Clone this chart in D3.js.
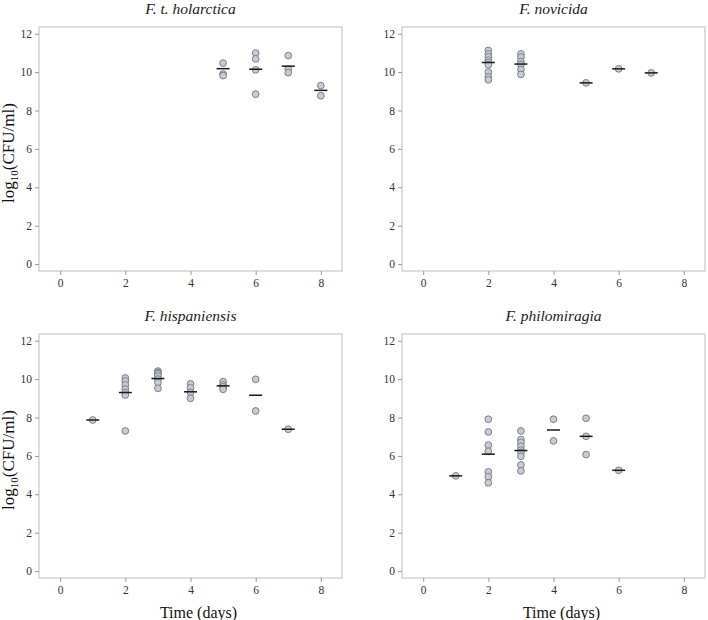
<!DOCTYPE html>
<html><head><meta charset="utf-8">
<script src="https://cdn.jsdelivr.net/npm/d3@7"></script>
<style>body{margin:0;background:#fff}svg{display:block}</style>
</head><body>
<script>
const titles = ["F. t. holarctica", "F. novicida", "F. hispaniensis", "F. philomiragia"];
const xTicks = [0, 2, 4, 6, 8];
const yTicks = [0, 2, 4, 6, 8, 10, 12];
// individual measurements per panel: [day, value]
const holarcticaPts = [[5,10.47],[5,9.9],[5,9.82],[6,10.99],[6,10.69],[6,10.12],[6,8.85],[7,10.86],[7,10.15],[7,9.97],[8,9.3],[8,8.77]];
const novicidaPts = [[2,11.13],[2,10.95],[2,10.8],[2,10.62],[2,10.5],[2,10.38],[2,10.0],[2,9.75],[2,9.6],
  [3,10.95],[3,10.78],[3,10.55],[3,10.4],[3,10.13],[3,9.88],[5,9.44],[6,10.17],[7,9.96]];
const hispaniensisPts = [[1,7.87],[2,10.06],[2,9.9],[2,9.7],[2,9.48],[2,9.3],[2,9.17],[2,7.3],
  [3,10.42],[3,10.35],[3,10.28],[3,10.16],[3,10.0],[3,9.82],[3,9.52],
  [4,9.75],[4,9.55],[4,9.3],[4,9.0],[5,9.87],[5,9.7],[5,9.6],[5,9.47],[6,9.99],[6,8.34],[7,7.39]];
const philomiragiaPts = [[1,4.96],[2,7.91],[2,7.25],[2,6.56],[2,6.24],[2,5.17],[2,4.91],[2,4.6],
  [3,7.3],[3,6.85],[3,6.7],[3,6.5],[3,6.3],[3,6.18],[3,5.98],[3,5.53],[3,5.22],
  [4,7.91],[4,6.78],[5,7.96],[5,7.02],[5,6.07],[6,5.25]];
// mean bars per panel: [day, mean]
const holarcticaMean = [[5,10.18],[6,10.15],[7,10.31],[8,9.05]];
const novicidaMean = [[2,10.5],[3,10.42],[5,9.44],[6,10.17],[7,9.96]];
const hispaniensisMean = [[1,7.87],[2,9.3],[3,10.03],[4,9.34],[5,9.65],[6,9.16],[7,7.39]];
const philomiragiaMean = [[1,4.96],[2,6.09],[3,6.28],[4,7.35],[5,7.02],[6,5.25]];

const pts = [holarcticaPts, novicidaPts, hispaniensisPts, philomiragiaPts];
const means = [holarcticaMean, novicidaMean, hispaniensisMean, philomiragiaMean];

const W = 708, H = 620;
const svg = d3.select("body").append("svg").attr("width", W).attr("height", H);
const colX = [39, 402], rowY = [27, 334];
const pw = 303, ph = 244;
const serif = "'Liberation Serif','Times New Roman',serif";

for (let i = 0; i < 4; i++) {
  const ox = colX[i % 2], oy = rowY[Math.floor(i / 2)];
  const g = svg.append("g").attr("transform", `translate(${ox},${oy})`);
  const x = d3.scaleLinear().domain([-0.65, 8.65]).range([0, pw]);
  const y = d3.scaleLinear().domain([-0.36, 12.35]).range([ph, 0]);

  g.append("rect").attr("width", pw).attr("height", ph)
    .attr("fill", "none").attr("stroke", "#c8c8c8").attr("stroke-width", 1.2);

  const xa = g.append("g").attr("transform", `translate(0,${ph})`)
    .call(d3.axisBottom(x).tickValues(xTicks).tickSize(4).tickPadding(4));
  const ya = g.append("g")
    .call(d3.axisLeft(y).tickValues(yTicks).tickSize(4).tickPadding(3));
  [xa, ya].forEach(a => {
    a.select(".domain").remove();
    a.selectAll(".tick line").attr("stroke", "#999");
    a.selectAll("text").attr("fill", "#333").style("font-family", serif).style("font-size", "11.5px");
  });

  g.selectAll("circle.pt").data(pts[i]).join("circle").attr("class", "pt")
    .attr("cx", d => x(d[0])).attr("cy", d => y(d[1])).attr("r", 3.4)
    .attr("fill", "#c6cad5").attr("stroke", "#74787f").attr("stroke-width", 0.9);

  g.selectAll("line.mean").data(means[i]).join("line").attr("class", "mean")
    .attr("x1", d => x(d[0]) - 6.5).attr("x2", d => x(d[0]) + 6.5)
    .attr("y1", d => y(d[1])).attr("y2", d => y(d[1]))
    .attr("stroke", "#1a1a1a").attr("stroke-width", 1.5);

  g.append("text").attr("x", pw / 2).attr("y", -13).attr("text-anchor", "middle")
    .style("font-family", serif).style("font-style", "italic").style("font-size", "15.5px")
    .attr("fill", "#222").text(titles[i]);

  if (i % 2 === 0) {
    const t = svg.append("text")
      .attr("transform", `translate(14,${oy + ph / 2 + 4}) rotate(-90)`)
      .attr("text-anchor", "middle").style("font-family", serif).style("font-size", "17px").attr("fill", "#111");
    t.append("tspan").text("log");
    t.append("tspan").attr("dy", 4).style("font-size", "11px").text("10");
    t.append("tspan").attr("dy", -4).text("(CFU/ml)");
  }
  if (i >= 2) {
    g.append("text").attr("x", pw / 2 + 8).attr("y", ph + 40).attr("text-anchor", "middle")
      .style("font-family", serif).style("font-size", "16px").attr("fill", "#111").text("Time (days)");
  }
}
</script>
</body></html>
